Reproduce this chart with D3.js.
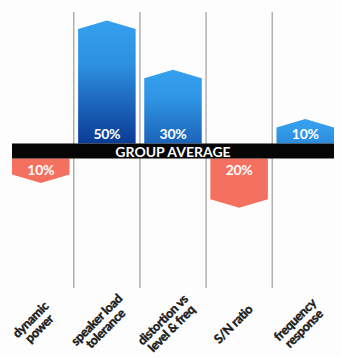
<!DOCTYPE html>
<html>
<head>
<meta charset="utf-8">
<script src="https://cdn.jsdelivr.net/npm/d3@7"></script>
<style>
  html, body { margin: 0; padding: 0; background: #fdfdfd; }
  svg { display: block; }
  text { font-family: Lato, "Open Sans", sans-serif; font-weight: 700; }
</style>
</head>
<body>
<svg id="chart" width="341" height="357"></svg>
<script>
// Difference from the group average, in percent
const categories = ["dynamic power", "speaker load tolerance", "distortion vs level & freq", "S/N ratio", "frequency response"];
const labelLines = [["dynamic", "power"], ["speaker load", "tolerance"], ["distortion vs", "level & freq"], ["S/N ratio"], ["frequency", "response"]];
const values = [-10, 50, 30, -20, 10];
const valueLabels = ["10%", "50%", "30%", "20%", "10%"];
const averageLabel = "GROUP AVERAGE";

const svg = d3.select("#chart");

const x = d3.scaleBand()
  .domain(categories)
  .range([7.7, 338.3])
  .paddingInner(0.13)
  .paddingOuter(0.065);

// band of the group average line
const bandTop = 143.5, bandBottom = 158.5;
const tip = 8.5;

// bar length (including the pointed end) per percent
const len = d3.scaleLinear().domain([0, 50]).range([0, 123]);

const blueTop = "#34a0ee", blueBottom = "#0a3b95";
const red = "#f4705f";

const defs = svg.append("defs");
const data = categories.map((c, i) => ({ cat: c, v: values[i], label: valueLabels[i], lines: labelLines[i] }));

data.forEach((d, i) => {
  if (d.v > 0) {
    const g = defs.append("linearGradient")
      .attr("id", "grad" + i)
      .attr("x1", 0).attr("y1", 0).attr("x2", 0).attr("y2", 1);
    const bottom = d3.interpolateRgb(blueTop, blueBottom)(Math.min(1, d.v / 50));
    g.append("stop").attr("offset", "0%").attr("stop-color", blueTop);
    g.append("stop").attr("offset", "35%").attr("stop-color", d3.interpolateRgb(blueTop, bottom)(0.15));
    g.append("stop").attr("offset", "100%").attr("stop-color", bottom);
  }
});

// vertical separators between categories
const sepY0 = 12, sepY1 = 288;
const gap = x.step() - x.bandwidth();
svg.append("g")
  .selectAll("line")
  .data(categories.slice(1))
  .join("line")
  .attr("x1", c => x(c) - gap / 2)
  .attr("x2", c => x(c) - gap / 2)
  .attr("y1", sepY0).attr("y2", sepY1)
  .attr("stroke", "#8a8a8a")
  .attr("stroke-width", 1);

// pentagon-shaped bars: upward from the band for positive, downward for negative
function barPath(d) {
  const x0 = x(d.cat), x1 = x0 + x.bandwidth(), xm = (x0 + x1) / 2;
  const L = len(Math.abs(d.v));
  const dir = d.v > 0 ? -1 : 1;
  const base = d.v > 0 ? bandTop : bandBottom;
  const tipY = base + dir * L, shoulder = tipY - dir * tip;
  return `M${x0},${base}L${x0},${shoulder}L${xm},${tipY}L${x1},${shoulder}L${x1},${base}Z`;
}

svg.append("g")
  .selectAll("path")
  .data(data)
  .join("path")
  .attr("d", barPath)
  .attr("fill", (d, i) => d.v > 0 ? `url(#grad${i})` : red);

// percentage labels inside the bars, near the band
svg.append("g")
  .selectAll("text")
  .data(data)
  .join("text")
  .attr("x", d => x(d.cat) + x.bandwidth() / 2)
  .attr("y", d => d.v > 0 ? bandTop - 10 : bandBottom + 11)
  .attr("text-anchor", "middle")
  .attr("dominant-baseline", "central")
  .attr("fill", "#ffffff")
  .attr("font-size", 14)
  .attr("letter-spacing", -0.3)
  .text(d => d.label);

// group average band
const bx0 = x(categories[0]);
const bx1 = x(categories[categories.length - 1]) + x.bandwidth();
svg.append("rect")
  .attr("x", bx0).attr("y", bandTop)
  .attr("width", bx1 - bx0).attr("height", bandBottom - bandTop)
  .attr("fill", "#050505");
svg.append("text")
  .attr("x", (bx0 + bx1) / 2)
  .attr("y", (bandTop + bandBottom) / 2 + 0.5)
  .attr("text-anchor", "middle")
  .attr("dominant-baseline", "central")
  .attr("fill", "#ffffff")
  .attr("font-size", 14)
  .text(averageLabel);

// rotated category labels
const lh = 12.5;
const catG = svg.append("g")
  .selectAll("g")
  .data(data)
  .join("g")
  .attr("transform", d => `translate(${x(d.cat) + x.bandwidth() / 2 - 6},324) rotate(-45)`);
catG.selectAll("text")
  .data(d => d.lines.map((t, j) => ({ t, j, n: d.lines.length })))
  .join("text")
  .attr("x", 0)
  .attr("y", l => (l.j - (l.n - 1) / 2) * lh)
  .attr("text-anchor", "middle")
  .attr("dominant-baseline", "central")
  .attr("fill", "#1a1a1a")
  .attr("stroke", "#1a1a1a")
  .attr("stroke-width", 0.45)
  .attr("font-size", 12.5)
  .attr("letter-spacing", -0.3)
  .text(l => l.t);
</script>
</body>
</html>
